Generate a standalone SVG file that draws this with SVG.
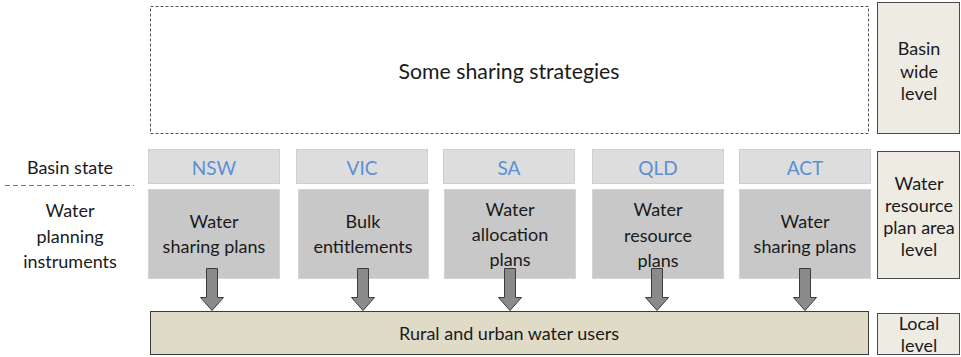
<svg xmlns="http://www.w3.org/2000/svg" width="961" height="357" viewBox="0 0 961 357">
  <style>
    text { font-family: Lato, "Liberation Sans", sans-serif; fill: #1a1a1a; text-anchor: middle; dominant-baseline: central; }
    .big { font-size: 21.3px; }
    .lbl { font-size: 18px; }
    .state rect { fill: #dddddd; stroke: #cfcfcf; stroke-width: 1; }
    .state text { fill: #5b8fd6; font-size: 19px; }
    .inst rect { fill: #c8c8c8; stroke: #d4d4d4; stroke-width: 1; }
    .level rect { fill: #eeebe3; stroke: #4a4a4a; stroke-width: 1; }
    .arrow { fill: #8a8a8a; stroke: #3c3c3c; stroke-width: 1; }
  </style>

  <!-- basin-wide strategies -->
  <g id="strategies">
    <rect x="150.5" y="6.5" width="718" height="127" fill="#ffffff" stroke="#555" stroke-width="1" stroke-dasharray="3,2"/>
    <text class="big" x="509" y="71">Some sharing strategies</text>
  </g>

  <!-- left row headings -->
  <g id="row-labels">
    <text class="lbl" x="70" y="167">Basin state</text>
    <line x1="5" y1="185.5" x2="134" y2="185.5" stroke="#777" stroke-width="1" stroke-dasharray="5,3"/>
    <text class="lbl" x="70" y="210">Water</text>
    <text class="lbl" x="70" y="236">planning</text>
    <text class="lbl" x="70" y="261">instruments</text>
  </g>

  <!-- states -->
  <g id="nsw" class="state"><rect x="148.5" y="149.5" width="131" height="34"/><text x="214" y="167">NSW</text></g>
  <g id="vic" class="state"><rect x="296.5" y="149.5" width="131" height="34"/><text x="362" y="167">VIC</text></g>
  <g id="sa" class="state"><rect x="443.5" y="149.5" width="131" height="34"/><text x="509" y="167">SA</text></g>
  <g id="qld" class="state"><rect x="592.5" y="149.5" width="131" height="34"/><text x="658" y="167">QLD</text></g>
  <g id="act" class="state"><rect x="739.5" y="149.5" width="131" height="34"/><text x="805" y="167">ACT</text></g>

  <!-- planning instruments -->
  <g id="nsw-plans" class="inst"><rect x="148.5" y="189.5" width="131" height="89"/>
    <text class="lbl" x="214" y="221">Water</text><text class="lbl" x="214" y="246">sharing plans</text></g>
  <g id="vic-plans" class="inst"><rect x="298.5" y="189.5" width="130" height="89"/>
    <text class="lbl" x="363" y="221">Bulk</text><text class="lbl" x="363" y="246">entitlements</text></g>
  <g id="sa-plans" class="inst"><rect x="444.5" y="189.5" width="131" height="89"/>
    <text class="lbl" x="510" y="209">Water</text><text class="lbl" x="510" y="234">allocation</text><text class="lbl" x="510" y="259">plans</text></g>
  <g id="qld-plans" class="inst"><rect x="592.5" y="189.5" width="131" height="89"/>
    <text class="lbl" x="658" y="209">Water</text><text class="lbl" x="658" y="235">resource</text><text class="lbl" x="658" y="260">plans</text></g>
  <g id="act-plans" class="inst"><rect x="739.5" y="189.5" width="131" height="89"/>
    <text class="lbl" x="805" y="221">Water</text><text class="lbl" x="805" y="246">sharing plans</text></g>

  <!-- users -->
  <g id="users">
    <rect x="150.5" y="311.5" width="718" height="43" fill="#e0dbc7" stroke="#3c3c3c" stroke-width="1"/>
    <text class="lbl" x="509" y="333">Rural and urban water users</text>
  </g>

  <!-- level labels -->
  <g id="basin-level" class="level"><rect x="877.5" y="2.5" width="82" height="131"/>
    <text class="lbl" x="919" y="48">Basin</text><text class="lbl" x="919" y="71">wide</text><text class="lbl" x="919" y="93">level</text></g>
  <g id="plan-level" class="level"><rect x="877.5" y="151.5" width="82" height="127"/>
    <text class="lbl" x="919" y="183">Water</text><text class="lbl" x="919" y="205">resource</text><text class="lbl" x="919" y="227">plan area</text><text class="lbl" x="919" y="249">level</text></g>
  <g id="local-level" class="level"><rect x="877.5" y="313.5" width="82" height="41"/>
    <text class="lbl" x="919" y="323">Local</text><text class="lbl" x="919" y="345">level</text></g>

  <!-- connectors: block arrows from instruments to users -->
  <g id="connectors">
    <path class="arrow" d="M206.5 268.5 H217.5 V297.5 H223.5 L212 310.5 L200.5 297.5 H206.5 Z"/>
    <path class="arrow" d="M357.5 268.5 H368.5 V297.5 H374.5 L363 310.5 L351.5 297.5 H357.5 Z"/>
    <path class="arrow" d="M504.5 268.5 H515.5 V297.5 H521.5 L510 310.5 L498.5 297.5 H504.5 Z"/>
    <path class="arrow" d="M651.5 268.5 H662.5 V297.5 H668.5 L657 310.5 L645.5 297.5 H651.5 Z"/>
    <path class="arrow" d="M799.5 268.5 H810.5 V297.5 H816.5 L805 310.5 L793.5 297.5 H799.5 Z"/>
  </g>
</svg>
